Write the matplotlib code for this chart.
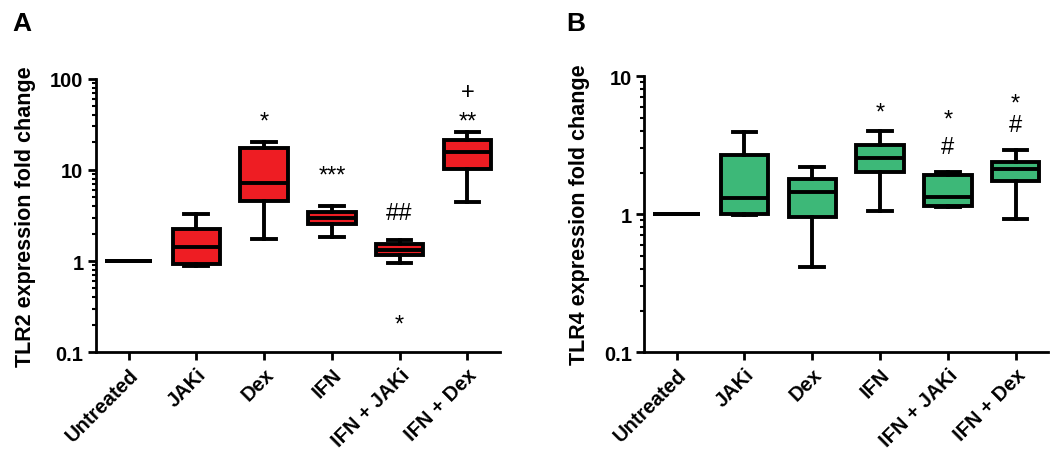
"""
TLR2 / TLR4 expression fold change box plots (two panels, log scale).
"""

import matplotlib
matplotlib.use("Agg")
import matplotlib.pyplot as plt
import matplotlib.ticker as mticker

plt.rcParams["font.family"] = ["Liberation Sans", "DejaVu Sans"]

categories = ["Untreated", "JAKi", "Dex", "IFN", "IFN + JAKi", "IFN + Dex"]

# Panel A - TLR2 (whisker low, q1, median, q3, whisker high)
tlr2_lo = [1.0, 0.88, 1.76, 1.84, 0.94, 4.4]
tlr2_q1 = [1.0, 0.92, 4.5, 2.58, 1.16, 10.3]
tlr2_med = [1.0, 1.43, 7.1, 3.0, 1.32, 15.6]
tlr2_q3 = [1.0, 2.23, 17.3, 3.49, 1.55, 21.1]
tlr2_hi = [1.0, 3.27, 20.4, 4.03, 1.70, 26.3]

# Panel B - TLR4
tlr4_lo = [1.0, 0.99, 0.414, 1.05, 1.12, 0.92]
tlr4_q1 = [1.0, 1.0, 0.95, 2.01, 1.15, 1.75]
tlr4_med = [1.0, 1.30, 1.45, 2.54, 1.34, 2.12]
tlr4_q3 = [1.0, 2.66, 1.80, 3.17, 1.92, 2.37]
tlr4_hi = [1.0, 3.92, 2.18, 4.03, 2.01, 2.92]

# significance marks: (category index, y value, text)
tlr2_marks = [(2, 39.5, "*"), (3, 10.2, "***"), (4, 3.4, "##"),
              (4, 0.238, "*"), (5, 39.5, "**"), (5, 71, "+")]
tlr4_marks = [(3, 6.05, "*"), (4, 5.38, "*"), (4, 3.05, "#"),
              (5, 6.96, "*"), (5, 4.43, "#")]

RED = "#ee1d23"
GREEN = "#3db878"
LW = 2.8


def draw_panel(ax, lo, q1, med, q3, hi, marks, color, ylim, ylabel):
    stats = []
    for i in range(len(categories)):
        stats.append({"whislo": lo[i], "q1": q1[i], "med": med[i],
                      "q3": q3[i], "whishi": hi[i], "fliers": []})
    ax.bxp(stats, positions=range(len(categories)), widths=0.7,
           showfliers=False, patch_artist=True,
           boxprops=dict(facecolor=color, edgecolor="black", linewidth=LW),
           medianprops=dict(color="black", linewidth=LW),
           whiskerprops=dict(color="black", linewidth=LW),
           capprops=dict(color="black", linewidth=LW),
           capwidths=0.35)

    for idx, y, txt in marks:
        # asterisks sit high in the glyph box, nudge them down a little
        dy = -4.5 if "*" in txt else 0
        ax.annotate(txt, (idx, y), xytext=(0, dy), textcoords="offset points",
                    ha="center", va="center", fontsize=17)

    ax.set_yscale("log")
    ax.set_ylim(*ylim)
    ax.set_xlim(-0.48, 5.48)
    ax.yaxis.set_major_formatter(mticker.FuncFormatter(lambda v, p: f"{v:g}"))
    ax.yaxis.set_minor_formatter(mticker.NullFormatter())
    ax.set_xticks(range(len(categories)))
    ax.set_xticklabels(categories, rotation=45, ha="right",
                       rotation_mode="anchor", fontweight="bold", fontsize=14.5)
    for lab in ax.get_yticklabels():
        lab.set_fontweight("bold")
        lab.set_fontsize(14.5)
    ax.set_ylabel(ylabel, fontweight="bold", fontsize=15.5, labelpad=10)

    ax.spines["top"].set_visible(False)
    ax.spines["right"].set_visible(False)
    ax.spines["left"].set_linewidth(2)
    ax.spines["bottom"].set_linewidth(2)
    ax.tick_params(axis="both", which="major", length=6, width=2, pad=3)
    ax.tick_params(axis="y", which="minor", length=3, width=1.5)


fig = plt.figure(figsize=(10.63, 4.64), dpi=100)
ax_a = fig.add_axes([0.0903, 0.239, 0.380, 0.589])
ax_b = fig.add_axes([0.606, 0.239, 0.380, 0.595])

draw_panel(ax_a, tlr2_lo, tlr2_q1, tlr2_med, tlr2_q3, tlr2_hi, tlr2_marks,
           RED, (0.1, 100), "TLR2 expression fold change")
draw_panel(ax_b, tlr4_lo, tlr4_q1, tlr4_med, tlr4_q3, tlr4_hi, tlr4_marks,
           GREEN, (0.1, 10), "TLR4 expression fold change")

fig.text(0.012, 0.975, "A", fontsize=19, fontweight="bold", va="top")
fig.text(0.533, 0.975, "B", fontsize=19, fontweight="bold", va="top")

fig.savefig("out.png", dpi=100)
plt.close(fig)
